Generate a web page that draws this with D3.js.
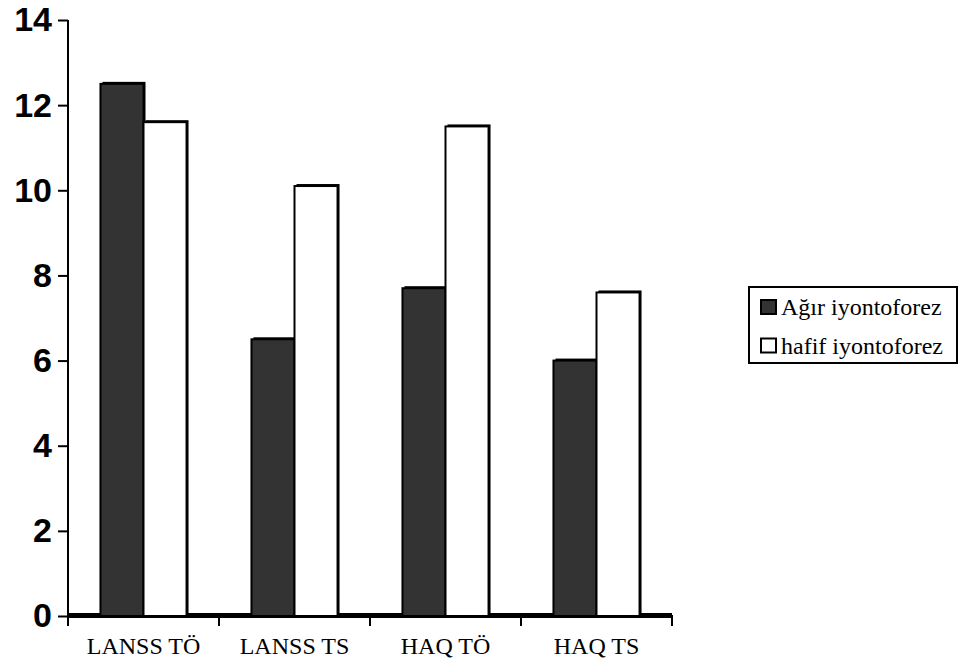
<!DOCTYPE html>
<html>
<head>
<meta charset="utf-8">
<script src="https://cdn.jsdelivr.net/npm/d3@7"></script>
<style>
  html, body { margin: 0; padding: 0; background: #fff; }
  svg { display: block; }
  .serif { font-family: "Liberation Serif", "Times New Roman", serif; }
  .sansb { font-family: "Liberation Sans", Arial, sans-serif; font-weight: bold; }
</style>
</head>
<body>
<svg id="chart" width="960" height="667"></svg>
<script>
const categories = ["LANSS TÖ", "LANSS TS", "HAQ TÖ", "HAQ TS"];
const seriesNames = ["Ağır iyontoforez", "hafif iyontoforez"];
const agirValues = [12.5, 6.5, 7.7, 6.0];
const hafifValues = [11.6, 10.1, 11.5, 7.6];
const yTicks = [0, 2, 4, 6, 8, 10, 12, 14];
const seriesColors = ["#333333", "#ffffff"];

(function () {
const svg = d3.select("#chart");
const mLeft = 68, mRight = 672, mTop = 20, mBottom = 616;

const x0 = d3.scaleBand().domain(categories).range([mLeft, mRight]).padding(0);
const x1 = d3.scaleBand().domain(seriesNames)
  .range([x0.bandwidth() * 0.215, x0.bandwidth() * 0.785]).padding(0);
const y = d3.scaleLinear().domain([0, 14]).range([mBottom, mTop]);

const data = categories.map((c, i) => ({
  cat: c,
  vals: [
    { s: seriesNames[0], v: agirValues[i], color: seriesColors[0] },
    { s: seriesNames[1], v: hafifValues[i], color: seriesColors[1] }
  ]
}));

// floor back edge (3D effect)
svg.append("line")
  .attr("x1", mLeft + 1).attr("x2", mRight)
  .attr("y1", mBottom - 2.5).attr("y2", mBottom - 2.5)
  .attr("stroke", "#000").attr("stroke-width", 2)
  .attr("shape-rendering", "crispEdges");

const d = 3;
const groups = svg.append("g").selectAll("g").data(data).join("g")
  .attr("transform", g => `translate(${x0(g.cat)},0)`);

groups.each(function(g) {
  const sel = d3.select(this);
  g.vals.forEach(b => {
    const bx = x1(b.s), bw = x1.bandwidth();
    const by = y(b.v), bh = mBottom - y(b.v);
    sel.append("rect")
      .attr("x", bx + d - 1).attr("y", by - d + 1)
      .attr("width", bw).attr("height", bh - 1)
      .attr("fill", "#000");
    sel.append("rect")
      .attr("x", bx).attr("y", by)
      .attr("width", bw).attr("height", bh)
      .attr("fill", b.color)
      .attr("stroke", "#000").attr("stroke-width", 2);
  });
});

// Y axis
const yAxis = d3.axisLeft(y).tickValues(yTicks).tickSize(10).tickPadding(6).tickFormat(d3.format("d"));
const gy = svg.append("g").attr("transform", `translate(${mLeft},0)`).call(yAxis);
gy.select(".domain").remove();
gy.attr("font-family", null).attr("font-size", null);
gy.selectAll(".tick line").attr("stroke", "#000").attr("stroke-width", 2);
gy.selectAll(".tick text")
  .attr("class", "sansb")
  .style("font-size", "34px")
  .attr("fill", "#000");
svg.append("line")
  .attr("x1", mLeft).attr("x2", mLeft)
  .attr("y1", mTop).attr("y2", 626)
  .attr("stroke", "#000").attr("stroke-width", 2);

// X axis line
svg.append("line")
  .attr("x1", mLeft).attr("x2", mRight + 1)
  .attr("y1", mBottom).attr("y2", mBottom)
  .attr("stroke", "#000").attr("stroke-width", 3)
  .attr("shape-rendering", "crispEdges");

// boundary ticks
const boundaries = categories.map(c => x0(c)).concat([mRight]);
svg.append("g").selectAll("line").data(boundaries).join("line")
  .attr("x1", v => v).attr("x2", v => v)
  .attr("y1", mBottom).attr("y2", 626)
  .attr("stroke", "#000").attr("stroke-width", 2);

// category labels
const xAxis = d3.axisBottom(x0).tickSize(0).tickPadding(0);
const gx = svg.append("g").attr("transform", `translate(0,${mBottom})`).call(xAxis);
gx.select(".domain").remove();
gx.attr("font-family", null).attr("font-size", null);
gx.selectAll(".tick text")
  .attr("dy", null)
  .attr("y", 38)
  .attr("class", "serif")
  .style("font-size", "24px")
  .attr("fill", "#000");

// Legend
const lg = svg.append("g");
lg.append("rect")
  .attr("x", 749).attr("y", 287).attr("width", 208).attr("height", 76)
  .attr("fill", "#fff").attr("stroke", "#000").attr("stroke-width", 2);
seriesNames.forEach((s, i) => {
  const yy = 300 + i * 38.5;
  lg.append("rect")
    .attr("x", 761).attr("y", yy).attr("width", 15).attr("height", 14)
    .attr("fill", seriesColors[i]).attr("stroke", "#000").attr("stroke-width", 2);
  lg.append("text")
    .attr("x", 781).attr("y", yy + 15)
    .attr("class", "serif")
    .style("font-size", "24px")
    .attr("fill", "#000")
    .text(s);
});
})();
</script>
</body>
</html>
